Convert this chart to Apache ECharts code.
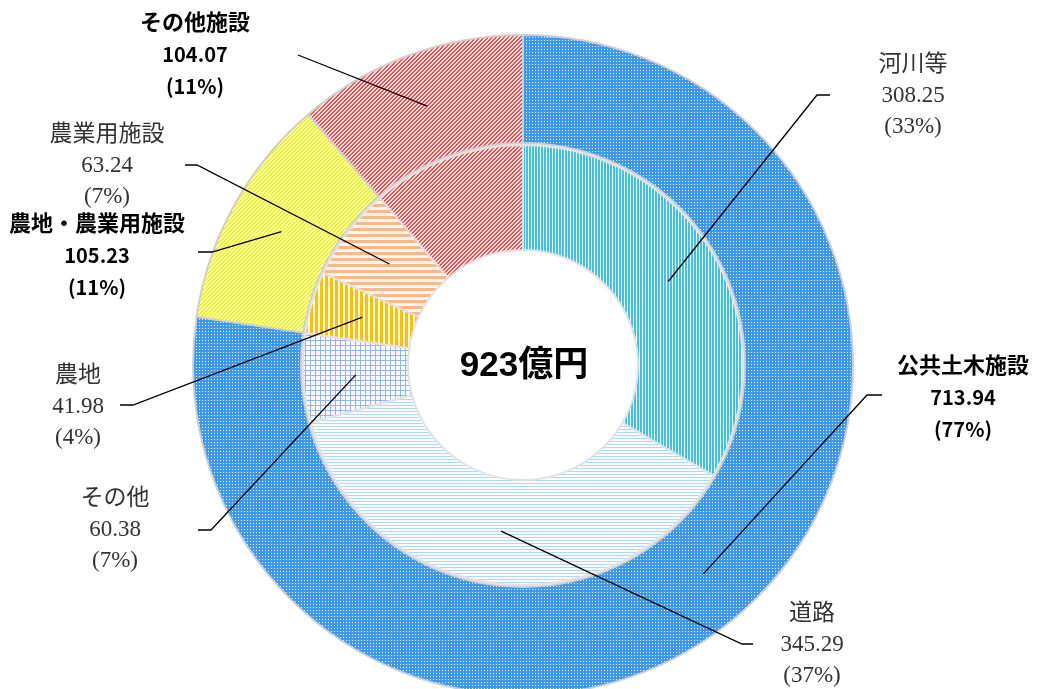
<!DOCTYPE html>
<html>
<head>
<meta charset="utf-8">
<script src="https://cdn.jsdelivr.net/npm/echarts@6/dist/echarts.min.js"></script>
<style>
html, body { margin: 0; padding: 0; background: #fff; }
#chart { width: 1038px; height: 689px; }
</style>
</head>
<body>
<div id="chart"></div>
<script>
// 内側の輪: 施設の種類別 (億円)
const innerNames = ['河川等', '道路', 'その他', '農地', '農業用施設', 'その他施設'];
const innerValues = [308.25, 345.29, 60.38, 41.98, 63.24, 104.07];
const innerPct = [33, 37, 7, 4, 7, 11];
// 外側の輪: 施設区分 (億円)
const outerNames = ['公共土木施設', '農地・農業用施設', 'その他施設'];
const outerValues = [713.94, 105.23, 104.07];
const outerPct = [77, 11, 11];
const totalLabel = '923億円';

const CX = 523, CY = 365;
const INNER_R = [115, 220];
const OUTER_R = [222, 330];

const SERIF = '"Liberation Serif", "Noto Sans CJK JP", serif';
const SANS = '"Noto Sans CJK JP", "Noto Sans", sans-serif';

// 模様のタイルを作る: paint(x, y) が色を返す
function tile(w, h, paint) {
  const c = document.createElement('canvas');
  c.width = w; c.height = h;
  const ctx = c.getContext('2d');
  for (let y = 0; y < h; y++) {
    for (let x = 0; x < w; x++) {
      ctx.fillStyle = paint(x, y);
      ctx.fillRect(x, y, 1, 1);
    }
  }
  return { image: c, repeat: 'repeat' };
}

const fills = {
  '公共土木施設': tile(3, 3, (x, y) => (x === 1 && y === 1) ? '#e6f2fd' : '#3e98ec'),
  '農地・農業用施設': tile(4, 4, (x, y) => (x + y) % 4 < 2 ? '#f2f22a' : '#fbfbb0'),
  'その他施設': tile(4, 4, (x, y) => (x + y) % 4 < 2 ? '#ee5252' : '#fde2e2'),
  '河川等': tile(3, 1, x => x === 0 ? '#eefaff' : '#40c2e8'),
  '道路': tile(1, 3, (x, y) => y === 0 ? '#b3d8f5' : '#f7fbff'),
  'その他': tile(5, 5, (x, y) => (x === 0 || y === 0) ? '#97b3ef' : '#f6f9ff'),
  '農地': tile(5, 1, x => x < 3 ? '#ffc000' : '#fffbe8'),
  '農業用施設': tile(1, 6, (x, y) => y < 3 ? '#fbb68c' : '#fff6f0')
};

// ラベルの位置と引き出し線の端
const labelSpots = {
  '河川等': { at: [913, 96], tip: [830, 95], elbow: 13 },
  '道路': { at: [812, 645], tip: [753, 644], elbow: 11 },
  'その他': { at: [115, 530], tip: [198, 530], elbow: 13 },
  '農地': { at: [78, 407], tip: [120, 405], elbow: 13 },
  '農業用施設': { at: [107, 166], tip: [185, 165], elbow: 12 },
  '公共土木施設': { at: [963, 397], tip: [882, 395], elbow: 15 },
  '農地・農業用施設': { at: [97, 255], tip: [198, 252], elbow: 14 },
  'その他施設': { at: [195, 54], tip: [298, 55], elbow: 0 }
};

function layoutFor(names, values, radius) {
  const total = values.reduce((a, b) => a + b, 0);
  return function (params) {
    const spot = labelSpots[names[params.dataIndex]];
    if (!spot) return {};
    let before = 0;
    for (let i = 0; i < params.dataIndex; i++) before += values[i];
    const mid = (before + values[params.dataIndex] / 2) / total * Math.PI * 2;
    const r = (radius[0] + radius[1]) / 2;
    const anchor = [CX + r * Math.sin(mid), CY - r * Math.cos(mid)];
    const dir = spot.tip[0] > CX ? -1 : 1;
    const elbow = [spot.tip[0] + dir * spot.elbow, spot.tip[1]];
    return {
      x: spot.at[0], y: spot.at[1], align: 'center', verticalAlign: 'middle',
      labelLinePoints: [anchor, elbow, spot.tip]
    };
  };
}

const fmt = p => '{n|' + p.name + '}\n{v|' + p.value.toFixed(2) + '}\n{v|(' + p.data.pct + '%)}';

function ring(names, values, radius, border) {
  return {
    type: 'pie', z: 2, center: [CX, CY], radius: radius,
    startAngle: 90, clockwise: true, silent: true,
    label: { show: false }, labelLine: { show: false },
    itemStyle: { borderColor: border, borderWidth: 2 },
    data: names.map((n, i) => ({ name: n, value: values[i], itemStyle: { color: fills[n] } }))
  };
}

// 透明な輪の上にラベルと引き出し線を描く
function labelRing(names, values, pct, radius, rich, hide) {
  return {
    type: 'pie', z: 5, center: [CX, CY], radius: radius,
    startAngle: 90, clockwise: true, silent: true, avoidLabelOverlap: false,
    itemStyle: { color: 'rgba(0,0,0,0)' },
    label: { position: 'outside', formatter: fmt, rich: rich },
    labelLine: { show: true, lineStyle: { color: '#000', width: 1.3 } },
    labelLayout: layoutFor(names, values, radius),
    data: names.map((n, i) => {
      const show = hide.indexOf(n) < 0;
      return { name: n, value: values[i], pct: pct[i], label: { show: show }, labelLine: { show: show } };
    })
  };
}

const serifRich = {
  n: { fontFamily: SERIF, fontSize: 23, color: '#333', lineHeight: 31, align: 'center' },
  v: { fontFamily: SERIF, fontSize: 23, color: '#333', lineHeight: 31, align: 'center' }
};
const boldRich = {
  n: { fontFamily: SANS, fontWeight: 'bold', fontSize: 22, color: '#000', lineHeight: 32, align: 'center' },
  v: { fontFamily: SANS, fontWeight: 'bold', fontSize: 20, color: '#000', lineHeight: 32, align: 'center' }
};

const chart = echarts.init(document.getElementById('chart'));
chart.setOption({
  animation: false,
  graphic: [{
    type: 'text', x: CX + 1, y: CY + 1, z: 10,
    style: {
      text: totalLabel, align: 'center', verticalAlign: 'middle',
      font: 'bold 35px "Liberation Sans", "Noto Sans CJK JP", sans-serif', fill: '#000'
    }
  }],
  series: [
    ring(innerNames, innerValues, INNER_R, '#e2e2e2'),
    ring(outerNames, outerValues, OUTER_R, '#cfcfcf'),
    labelRing(innerNames, innerValues, innerPct, INNER_R, serifRich, ['その他施設']),
    labelRing(outerNames, outerValues, outerPct, OUTER_R, boldRich, [])
  ]
});
</script>
</body>
</html>
